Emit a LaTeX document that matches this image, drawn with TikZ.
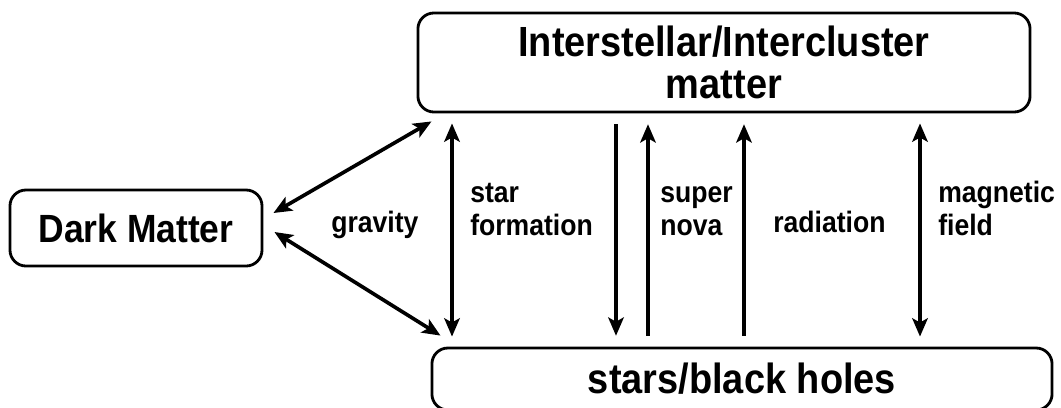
\documentclass[tikz,border=0pt]{standalone}
\usepackage{fontspec}
\setmainfont{Liberation Sans}[FakeStretch=0.9]
\usetikzlibrary{arrows.meta}

\tikzset{
  box/.style={draw, line width=2pt, rounded corners=0.4cm, align=center,
    inner sep=0pt, font=\fontsize{30}{30}\selectfont\bfseries},
  lbl/.style={align=left, anchor=base west, inner sep=0pt,
    font=\fontsize{21}{23.4}\selectfont\bfseries},
  pil/.style={line width=2.6pt, shorten <=0.27cm, shorten >=0.27cm,
    -{Stealth[length=13pt,width=11pt,inset=3pt]}},
  dpil/.style={line width=2.6pt,
    {Stealth[length=13pt,width=11pt,inset=3pt]}-{Stealth[length=13pt,width=11pt,inset=3pt]}},
}

\begin{document}
\begin{tikzpicture}[x=0.025cm,y=-0.025cm]
\useasboundingbox (0,0) rectangle (1061,408);
% boxes
\node[box, minimum width=15.3cm, minimum height=2.475cm] (ism) at (724,62.5)
  {Interstellar/Intercluster\\matter};
\node[box, minimum width=6.3cm, minimum height=1.9cm,
  font=\fontsize{28}{29}\selectfont\bfseries] (dm) at (136,228) {Dark Matter};
\node[box, minimum width=15.5cm, minimum height=1.55cm] (bh) at (742,379) {stars/black holes};
% gravity
\draw[dpil] ([shift={(10,-15)}]dm.east) -- ([shift={(15,8)}]ism.south west);
\draw[dpil] ([shift={(11,4)}]dm.east) -- ([shift={(10,-11)}]bh.north west);
\node[lbl] (grav) at (331,232) {gravity};
% vertical links
\draw[dpil, shorten <=0.25cm, shorten >=0.25cm] (ism.south -| 452,0) -- (bh.north -| 452,0);
\node[lbl] (sf) at (470,235) {star\\formation};
\draw[pil] (ism.south -| 616,0) -- (bh.north -| 616,0);
\draw[pil] (bh.north -| 648,0) -- (ism.south -| 648,0);
\node[lbl] (sn) at (660,235) {super\\nova};
\draw[pil] (bh.north -| 744,0) -- (ism.south -| 744,0);
\node[lbl] (rad) at (773,232) {radiation};
\draw[dpil, shorten <=0.25cm, shorten >=0.25cm] (ism.south -| 920,0) -- (bh.north -| 920,0);
\node[lbl] (mf) at (938,235) {magnetic\\field};
\end{tikzpicture}
\end{document}
